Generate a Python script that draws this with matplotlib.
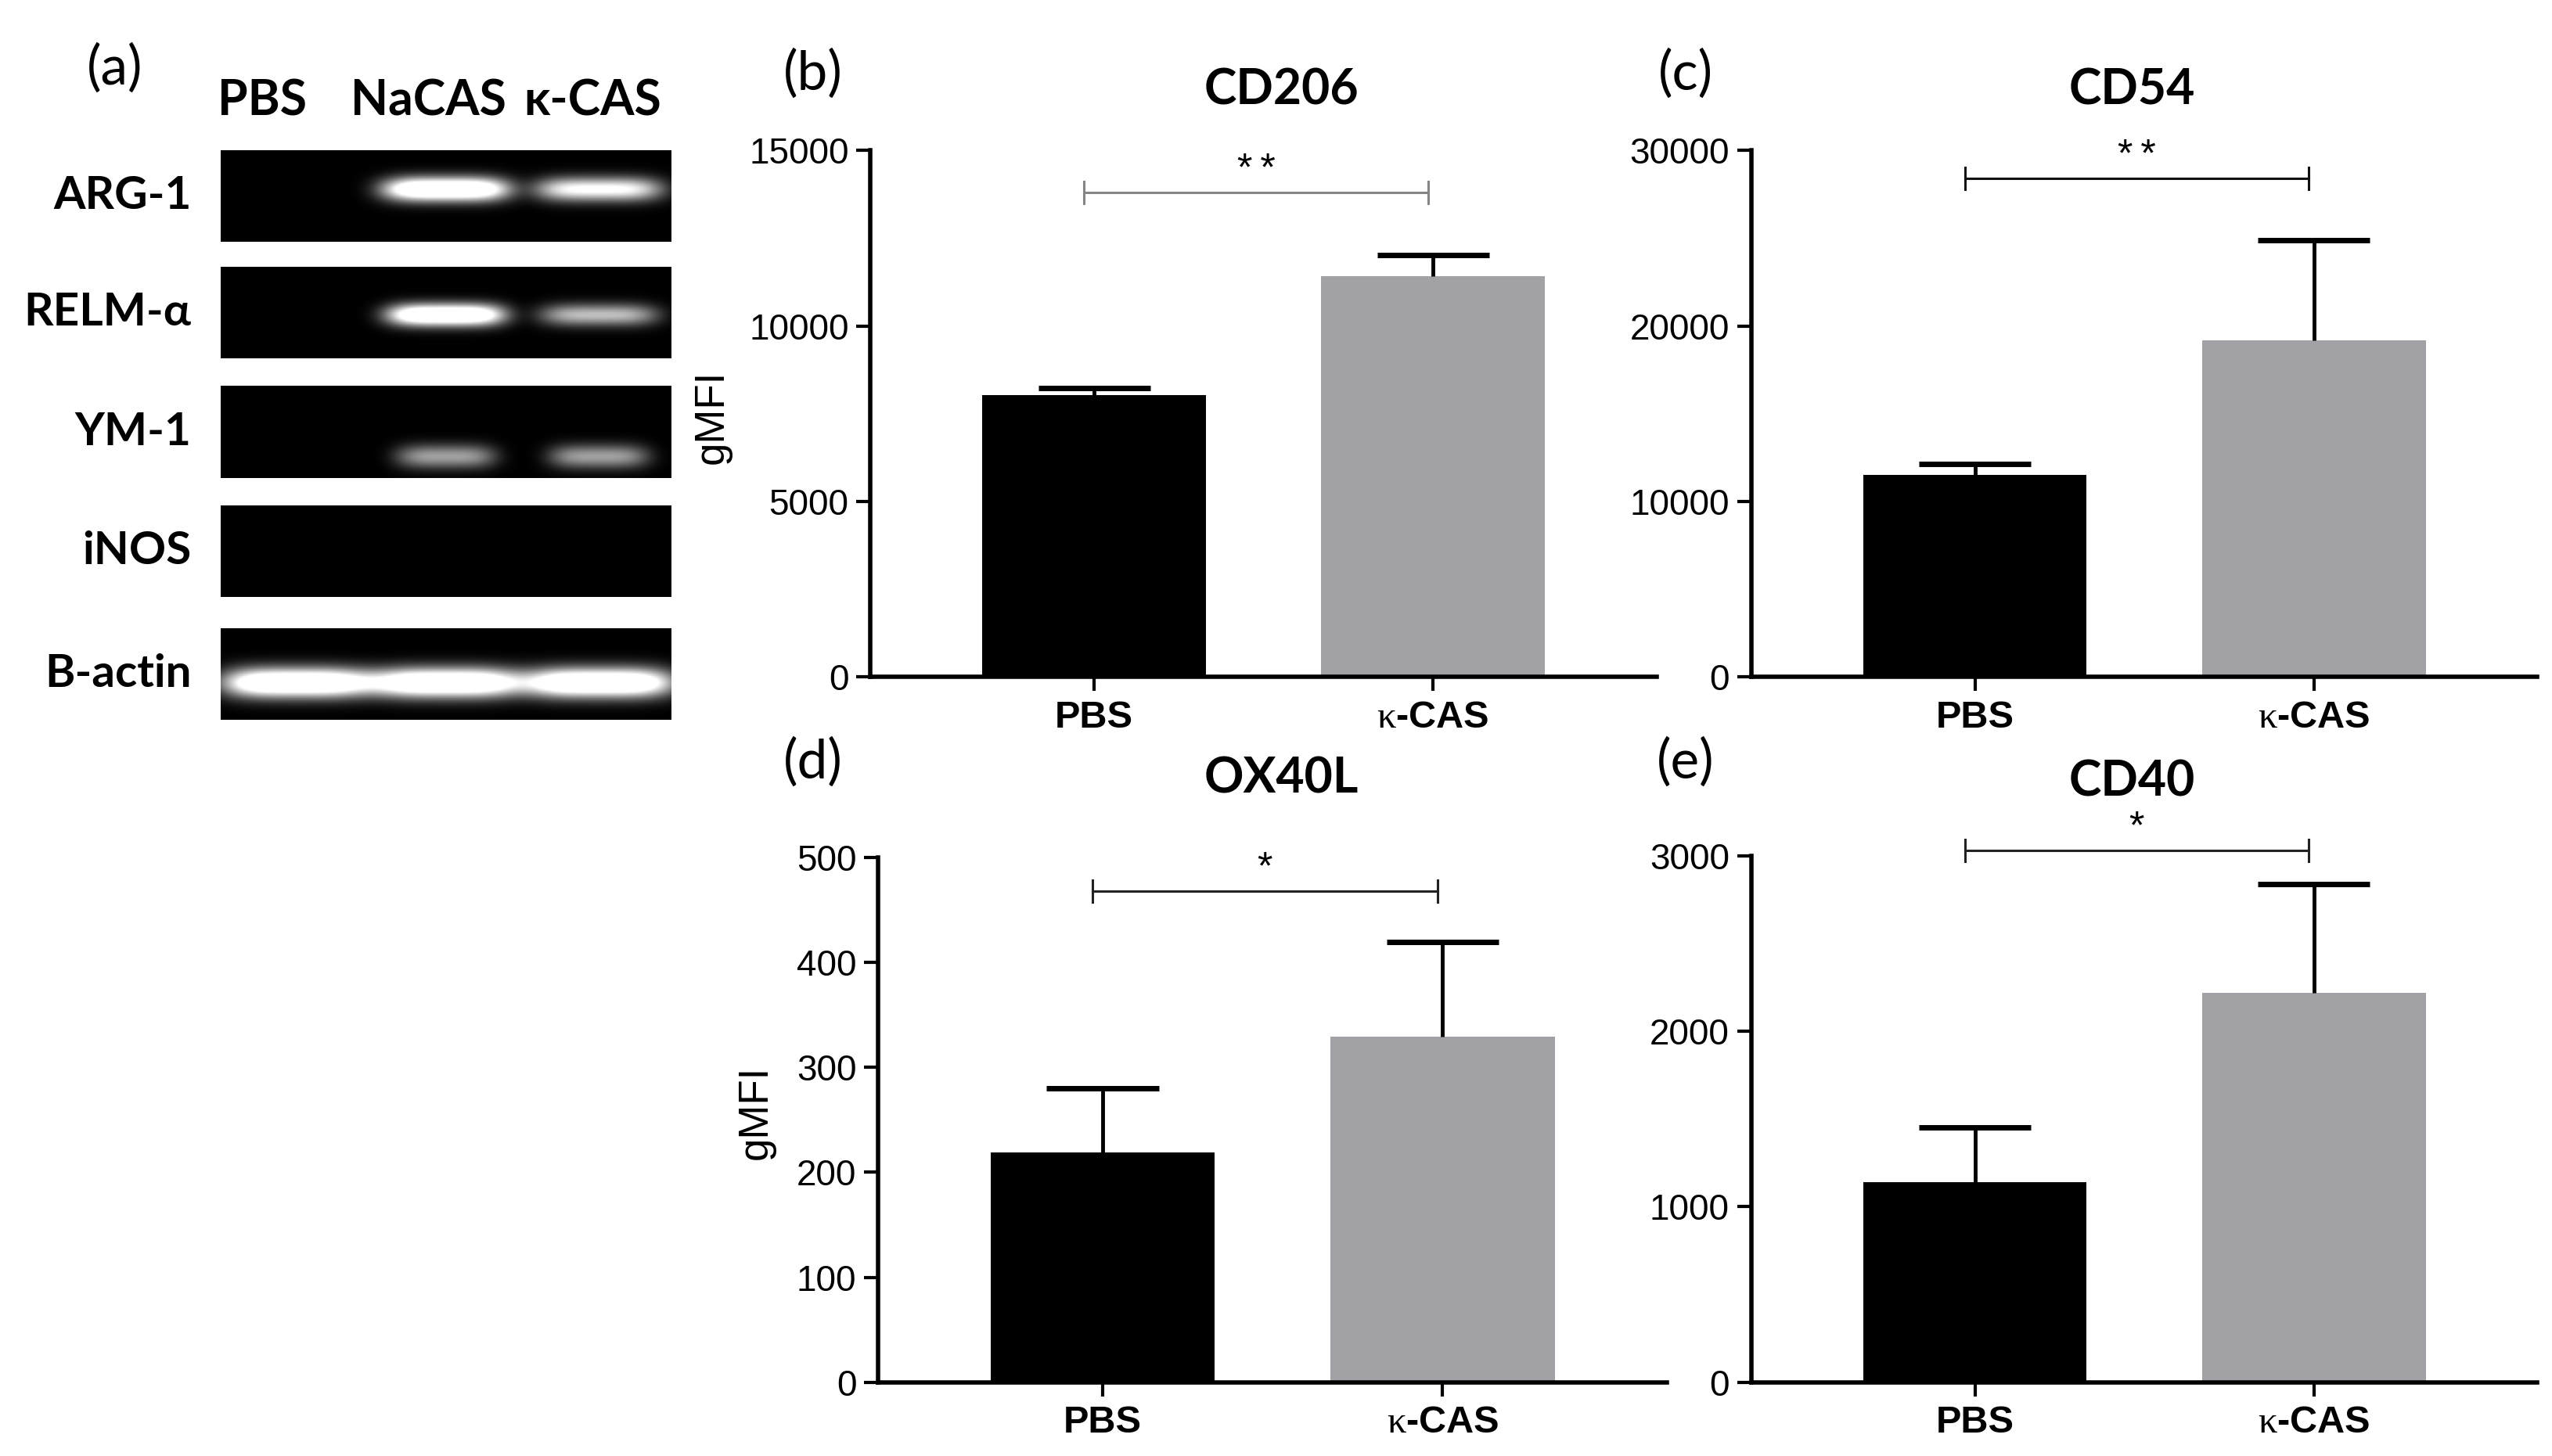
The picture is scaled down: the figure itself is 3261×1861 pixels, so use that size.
import matplotlib.pyplot as plt
import numpy as np

# bar chart data (gMFI, mean and upper error)
groups = ['PBS', r'$\mathrm{\kappa}$-CAS']
markers = ['CD206', 'CD54', 'OX40L', 'CD40']
panel_tags = ['(b)', '(c)', '(d)', '(e)']
cd206_mean = [8030, 11430]
cd206_err = [200, 590]
cd54_mean = [11540, 19190]
cd54_err = [620, 5700]
ox40l_mean = [219, 329]
ox40l_err = [61, 90]
cd40_mean = [1140, 2218]
cd40_err = [312, 619]
y_max = [15000, 30000, 500, 3000]
y_step = [5000, 10000, 100, 1000]
sig_text = ['*\u2009*', '*\u2009*', '*', '*']
sig_y = [13800, 28400, 468, 3030]

# gel (RT-PCR) band intensities, lanes PBS / NaCAS / κ-CAS
gel_lanes = ['PBS', 'NaCAS', 'κ-CAS']
gel_genes = ['ARG-1', 'RELM-α', 'YM-1', 'iNOS', 'B-actin']
arg1_band = [0.0, 1.0, 0.7]
relm_band = [0.0, 1.0, 0.5]
ym1_band = [0.0, 0.42, 0.42]
inos_band = [0.0, 0.0, 0.0]
bactin_band = [1.0, 1.0, 1.0]

means = [cd206_mean, cd54_mean, ox40l_mean, cd40_mean]
errs = [cd206_err, cd54_err, ox40l_err, cd40_err]
bands = [arg1_band, relm_band, ym1_band, inos_band, bactin_band]

TICK_FONT = 'Liberation Sans'
HEAD_FONT = 'Lato'
plt.rcParams['mathtext.fontset'] = 'custom'
plt.rcParams['mathtext.rm'] = 'Liberation Serif'

fig = plt.figure(figsize=(32.62, 18.61), dpi=100)

# ---- panel (a): gel ----
disp_w, disp_h = 1560.0, 890.0
row_tops = [92, 163, 236, 309, 384]
band_y = [0.43, 0.53, 0.77, 0.5, 0.60]
band_w = [0.28, 0.26, 0.22, 0.26, 0.33]
band_h = [0.13, 0.12, 0.13, 0.13, 0.16]
lane_x = [0.17, 0.50, 0.84]
xs = np.linspace(0, 1, 400)
ys = np.linspace(0, 1, 80)
X, Y = np.meshgrid(xs, ys)
for gene, top, by, bw, bh, amp in zip(gel_genes, row_tops, band_y, band_w, band_h, bands):
    ax = fig.add_axes([135 / disp_w, 1 - (top + 56) / disp_h, 275 / disp_w, 56 / disp_h])
    img = np.zeros_like(X)
    for lx, a in zip(lane_x, amp):
        img += a * np.exp(-(np.abs(X - lx) / (bw / 2)) ** 4 - ((Y - by) / bh) ** 2)
    img = np.clip(img * 1.5, 0, 1)
    ax.imshow(img, cmap='gray', vmin=0, vmax=1, aspect='auto', extent=[0, 1, 1, 0])
    ax.set_xticks([])
    ax.set_yticks([])
    for s in ax.spines.values():
        s.set_visible(False)
    fig.text(117 / disp_w, 1 - (top + 28) / disp_h, gene, ha='right', va='center',
             fontsize=42, fontweight='bold', family=HEAD_FONT)

for name, cx in zip(gel_lanes, [160, 262, 362]):
    fig.text(cx / disp_w, 1 - 62 / disp_h, name, ha='center', va='center',
             fontsize=45, fontweight='bold', family=HEAD_FONT)
fig.text(70 / disp_w, 1 - 42 / disp_h, '(a)', ha='center', va='center',
         fontsize=50, family=HEAD_FONT)

# ---- panels (b)-(e): bar charts ----
axes_pos = [[0.341, 0.535, 0.308, 0.3616],
            [0.686, 0.535, 0.308, 0.3616],
            [0.344, 0.0506, 0.309, 0.3606],
            [0.686, 0.0506, 0.308, 0.3618]]
tag_pos = [(497, 45), (1030, 45), (497, 466), (1030, 466)]
title_pos = [(783, 55), (1303, 55), (783, 476), (1303, 478)]
ylabel_pos = [(435, 255), None, (462, 680), None]
bracket_colors = ['#858585', '#111111', '#222222', '#222222']
bar_colors = ['black', '#a2a1a5']
x = np.arange(len(groups))

for i in range(4):
    ax = fig.add_axes(axes_pos[i])
    ax.bar(x, means[i], width=0.66, color=bar_colors, edgecolor='none', zorder=2)
    top = np.array(means[i]) + np.array(errs[i])
    ax.vlines(x, means[i], top, color='black', lw=3.5, zorder=3)
    ax.hlines(top, x - 0.165, x + 0.165, color='black', lw=5, zorder=3)

    # significance bracket
    th = 0.021 * y_max[i]
    bc = bracket_colors[i]
    x0, x1 = -0.03, 0.985
    ax.plot([x0, x1], [sig_y[i], sig_y[i]], color=bc, lw=2.2, clip_on=False)
    ax.plot([x0, x0], [sig_y[i] - th, sig_y[i] + th], color=bc, lw=2.2, clip_on=False)
    ax.plot([x1, x1], [sig_y[i] - th, sig_y[i] + th], color=bc, lw=2.2, clip_on=False)
    ax.annotate(sig_text[i], xy=((x0 + x1) / 2, sig_y[i]), xytext=(0, 11),
                textcoords='offset points', ha='center', va='baseline',
                fontsize=36, family=TICK_FONT, annotation_clip=False)

    ax.set_xlim(-0.66, 1.66)
    ax.set_ylim(0, y_max[i])
    ax.set_yticks(np.arange(0, y_max[i] + 1, y_step[i]))
    ax.set_xticks(x)
    ax.set_xticklabels(groups)
    for s in ['top', 'right']:
        ax.spines[s].set_visible(False)
    for s in ['left', 'bottom']:
        ax.spines[s].set_linewidth(4)
    ax.tick_params(axis='y', length=13, width=3, pad=7)
    ax.tick_params(axis='x', length=13, width=3, pad=8)
    for lab in ax.get_yticklabels():
        lab.set_fontsize(33)
        lab.set_family(TICK_FONT)
    for lab in ax.get_xticklabels():
        lab.set_fontsize(35)
        lab.set_fontweight('bold')
        lab.set_family(TICK_FONT)

    tx, ty = tag_pos[i]
    fig.text(tx / disp_w, 1 - ty / disp_h, panel_tags[i], ha='center', va='center',
             fontsize=50, family=HEAD_FONT)
    hx, hy = title_pos[i]
    fig.text(hx / disp_w, 1 - hy / disp_h, markers[i], ha='center', va='center',
             fontsize=45, fontweight='bold', family=HEAD_FONT)
    if ylabel_pos[i] is not None:
        lx, ly = ylabel_pos[i]
        fig.text(lx / disp_w, 1 - ly / disp_h, 'gMFI', ha='center', va='center',
                 rotation=90, fontsize=38, family=TICK_FONT)

fig.savefig('out.png', dpi=100, facecolor='white')
